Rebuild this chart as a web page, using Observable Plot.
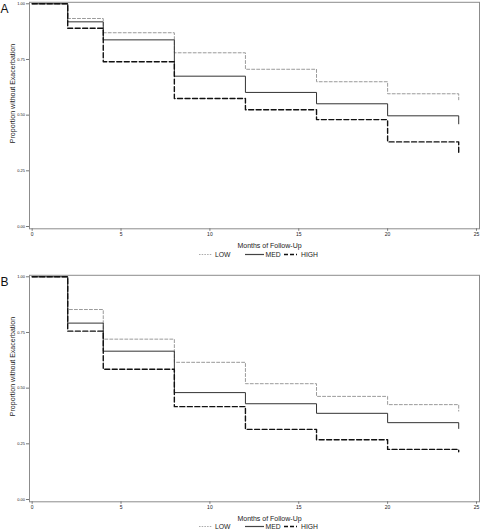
<!DOCTYPE html>
<html><head><meta charset="utf-8">
<script src="https://cdn.jsdelivr.net/npm/d3@7"></script>
<script src="https://cdn.jsdelivr.net/npm/@observablehq/plot@0.6"></script>
<style>
body{margin:0;background:#fff;font-family:"Liberation Sans",Arial,sans-serif;}
.panel{position:relative;width:481px;height:272.5px;overflow:visible;}
.panel svg{display:block;}
.legend{position:absolute;left:0;}
</style></head><body><div id="chart"></div>
<script>
const months = [0, 2, 4, 8, 12, 16, 20, 24];
const groups = ["LOW", "MED", "HIGH"];
const panelLabels = ["A", "B"];
const xTicks = [0, 5, 10, 15, 20, 25];
const yTicks = [0, 0.25, 0.5, 0.75, 1];
const xLabel = "Months of Follow-Up";
const yLabel = "Proportion without Exacerbation";

// Panel A
const aLow  = [1, 0.934, 0.870, 0.780, 0.706, 0.650, 0.596, 0.569];
const aMed  = [1, 0.919, 0.838, 0.675, 0.602, 0.551, 0.497, 0.461];
const aHigh = [1, 0.890, 0.740, 0.575, 0.524, 0.480, 0.380, 0.326];
// Panel B
const bLow  = [1, 0.853, 0.720, 0.616, 0.520, 0.463, 0.426, 0.397];
const bMed  = [1, 0.792, 0.666, 0.480, 0.430, 0.387, 0.345, 0.319];
const bHigh = [1, 0.756, 0.585, 0.417, 0.315, 0.268, 0.225, 0.214];

const styles = {
  LOW:  {stroke: "#9a9a9a", dash: "3,2", width: 1},
  MED:  {stroke: "#333333", dash: undefined, width: 1},
  HIGH: {stroke: "#111111", dash: "5,2.5", width: 1.4}
};
const legendItems = {
  LOW:  {x1: 199, x2: 212, tx: 215, dash: "1.5,1.2", stroke: "#aaaaaa", width: 1},
  MED:  {x1: 245, x2: 264, tx: 265.5, dash: null, stroke: "#444444", width: 1.2},
  HIGH: {x1: 284, x2: 297, tx: 301, dash: "4,2", stroke: "#111111", width: 1.4}
};

function rows(series) {
  return groups.flatMap((g, i) => months.map((m, j) => ({group: g, month: m, value: series[i][j]})));
}

function panel(letter, series) {
  const data = rows(series);
  const div = document.createElement("div");
  div.className = "panel";
  const plot = Plot.plot({
    width: 481,
    height: 272,
    marginLeft: 29,
    marginRight: 2,
    marginTop: 1.8,
    marginBottom: 43.7,
    style: {fontFamily: "'Liberation Sans', Arial, sans-serif", color: "#222", background: "#fff"},
    x: {domain: [-0.15, 25.17]},
    y: {domain: [-0.0103, 1.0067]},
    marks: [
      Plot.frame({stroke: "#8c8c8c"}),
      Plot.axisY({ticks: yTicks, tickFormat: d3.format(".2f"), tickSize: 3, tickPadding: 1.5, fontSize: 4, label: null, stroke: "#777"}),
      Plot.axisX({ticks: xTicks, tickSize: 2.5, tickPadding: 1.5, fontSize: 5, label: null, stroke: "#777"}),
      ...groups.map(g => Plot.line(data.filter(d => d.group === g), {
        x: "month", y: "value", curve: "step-after",
        stroke: styles[g].stroke, strokeWidth: styles[g].width, strokeDasharray: styles[g].dash
      })),
      Plot.text([yLabel], {text: d => d, frameAnchor: "left", rotate: -90, dx: -17, dy: -22, fontSize: 7, textAnchor: "middle", lineAnchor: "middle"}),
      Plot.text([xLabel], {text: d => d, frameAnchor: "bottom", dx: 15, dy: 16.7, fontSize: 7, textAnchor: "middle", lineAnchor: "middle"}),
      Plot.text([letter], {text: d => d, frameAnchor: "top-left", dx: -29, dy: 1.7, textAnchor: "start", lineAnchor: "top", fontSize: 12, fill: "#111"})
    ]
  });
  div.appendChild(plot);
  // legend below the plot area
  const svg = d3.create("svg").attr("class", "legend").attr("width", 481).attr("height", 9)
    .style("top", (228.3 + 25.8 - 4.5) + "px");
  for (const g of groups) {
    const it = legendItems[g];
    svg.append("line").attr("x1", it.x1).attr("x2", it.x2).attr("y1", 4.5).attr("y2", 4.5)
      .attr("stroke", it.stroke).attr("stroke-width", it.width).attr("stroke-dasharray", it.dash);
    svg.append("text").attr("x", it.tx).attr("y", 4.5).attr("dy", "0.35em")
      .attr("font-size", 6.8).attr("fill", "#222")
      .attr("font-family", "'Liberation Sans', Arial, sans-serif").text(g);
  }
  div.appendChild(svg.node());
  return div;
}

const chart = document.getElementById("chart");
chart.appendChild(panel(panelLabels[0], [aLow, aMed, aHigh]));
chart.appendChild(panel(panelLabels[1], [bLow, bMed, bHigh]));
</script></body></html>
